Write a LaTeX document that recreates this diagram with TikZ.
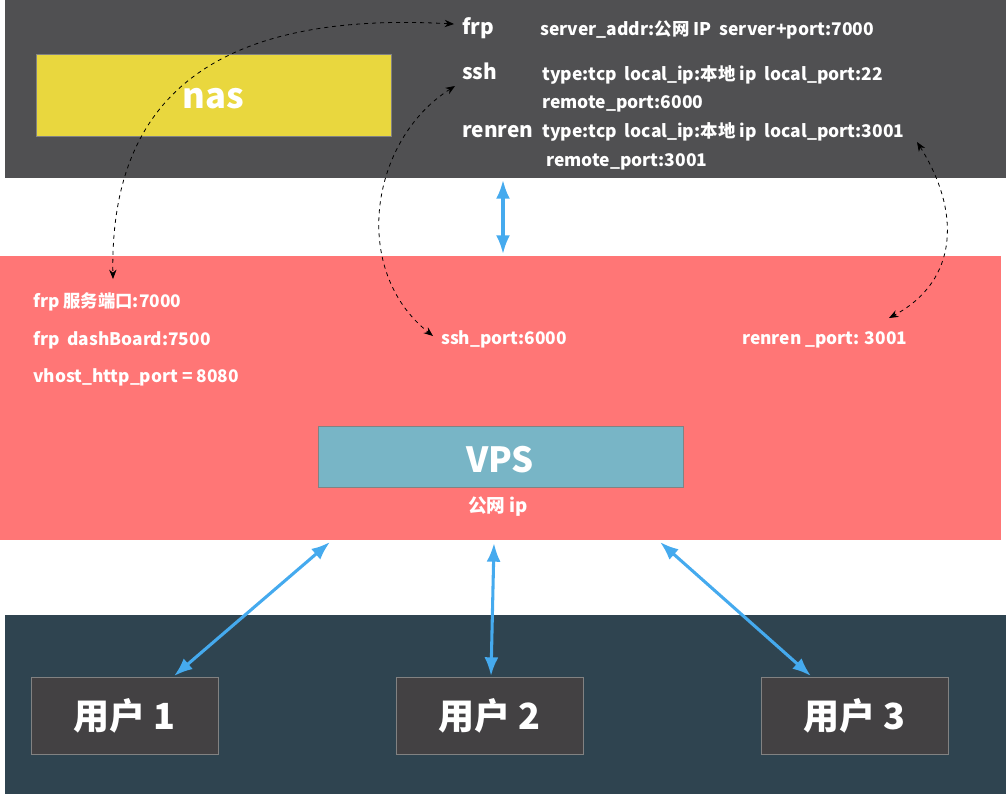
\documentclass[tikz,border=0pt]{standalone}
\usepackage{fontspec}
\setmainfont{Noto Sans CJK SC}
\usetikzlibrary{arrows.meta}
\definecolor{topgray}{RGB}{80,80,82}
\definecolor{nasyellow}{RGB}{233,215,62}
\definecolor{bandpink}{RGB}{255,118,118}
\definecolor{vpsblue}{RGB}{120,181,198}
\definecolor{navy}{RGB}{47,68,80}
\definecolor{userbox}{RGB}{67,65,67}
\definecolor{arrowblue}{RGB}{69,170,238}
\definecolor{edgegray}{RGB}{130,130,130}
\tikzset{
  box/.style={draw=edgegray, line width=0.75pt, inner sep=0pt, text=white, font=\bfseries},
  lbl/.style={anchor=base west, inner sep=0pt, text=white, font=\bfseries\fontsize{13.1}{15}\selectfont},
  keylbl/.style={anchor=base west, inner sep=0pt, text=white, font=\bfseries\fontsize{15.6}{18}\selectfont},
  midlbl/.style={anchor=base west, inner sep=0pt, text=white, font=\bfseries\fontsize{13}{15}\selectfont},
  bluearrow/.style={draw=arrowblue, line width=2.3pt, {Latex[length=14pt,width=10.5pt]}-{Latex[length=14pt,width=10.5pt]}},
  dasharrow/.style={draw=black, line width=0.6pt, dashed, {Stealth[length=7pt,width=5.5pt]}-{Stealth[length=7pt,width=5.5pt]}}
}
\begin{document}
\begin{tikzpicture}[x=0.75pt,y=-0.75pt]
\useasboundingbox (0,0) rectangle (1006,794);
% bands
\fill[topgray] (5,0) rectangle (1006,178);
\fill[bandpink] (0,256) rectangle (1001,540);
\fill[navy] (5,615) rectangle (1006,794);
% nas box
\node[box, fill=nasyellow, minimum width=266.25pt, minimum height=61.5pt] (nas) at (213.5,95) {};
\node[anchor=base, inner sep=0pt, text=white, font=\bfseries\fontsize{26}{28}\selectfont] (nastext) at (213,108) {nas};
% top labels
\node[keylbl] (frp) at (462,34) {frp};
\node[lbl] (frpcfg) at (540,35) {server\_addr:公网 IP\ \ server+port:7000};
\node[keylbl] (ssh) at (462,79) {ssh};
\node[lbl] (sshcfg) at (542,80) {type:tcp\ \ local\_ip:本地 ip\ \ local\_port:22};
\node[lbl] (sshrem) at (542,108) {remote\_port:6000};
\node[keylbl] (renren) at (462,137) {renren};
\node[lbl] (rencfg) at (542,137) {type:tcp\ \ local\_ip:本地 ip\ \ local\_port:3001};
\node[lbl] (renrem) at (546,166) {remote\_port:3001};
% middle labels
\node[midlbl] (frpsrv) at (33,307) {frp 服务端口:7000};
\node[midlbl] (frpdash) at (33,345) {frp\ \ dashBoard:7500};
\node[midlbl] (vhost) at (33,382) {vhost\_http\_port = 8080};
\node[midlbl] (sshport) at (441,344) {ssh\_port:6000};
\node[midlbl] (renport) at (742,344) {renren \_port: 3001};
% VPS
\node[box, fill=vpsblue, minimum width=273.75pt, minimum height=45.75pt] (vps) at (500.5,456.5) {};
\node[anchor=base, inner sep=0pt, text=white, font=\bfseries\fontsize{26}{28}\selectfont] (vpstext) at (500,472) {VPS};
\node[anchor=base, inner sep=0pt, text=white, font=\bfseries\fontsize{14}{16}\selectfont] (pubip) at (498,512) {公网 ip};
% users
\node[box, fill=userbox, minimum width=140.25pt, minimum height=57.75pt, font=\bfseries\fontsize{27}{30}\selectfont] (u1) at (124.5,715.5) {用户 1};
\node[box, fill=userbox, minimum width=140.25pt, minimum height=57.75pt, font=\bfseries\fontsize{27}{30}\selectfont] (u2) at (489.5,715.5) {用户 2};
\node[box, fill=userbox, minimum width=140.25pt, minimum height=57.75pt, font=\bfseries\fontsize{27}{30}\selectfont] (u3) at (854.5,715.5) {用户 3};
% blue connectors
\coordinate (natop) at (503,180);
\coordinate (nabot) at (503,254);
\coordinate (v1) at (330,542);
\coordinate (u1t) at (174,676);
\coordinate (v2) at (494,543);
\coordinate (u2t) at (491,676);
\coordinate (v3) at (660,542);
\coordinate (u3t) at (811,676);
\draw[bluearrow] (natop) -- (nabot);
\draw[bluearrow] (v1) -- (u1t);
\draw[bluearrow] (v2) -- (u2t);
\draw[bluearrow] (v3) -- (u3t);
% dashed connectors
\coordinate (frpend) at (454,24);
\coordinate (frpsrvend) at (113,279);
\coordinate (sshend) at (455,86);
\coordinate (sshportend) at (433,336);
\coordinate (renend) at (917,142);
\coordinate (renportend) at (889,318);
\draw[dasharrow] (frpend) .. controls (200,10) and (110,110) .. (frpsrvend);
\draw[dasharrow] (sshend) .. controls (370,140) and (350,270) .. (sshportend);
\draw[dasharrow] (renend) .. controls (960,210) and (960,280) .. (renportend);
\end{tikzpicture}
\end{document}
